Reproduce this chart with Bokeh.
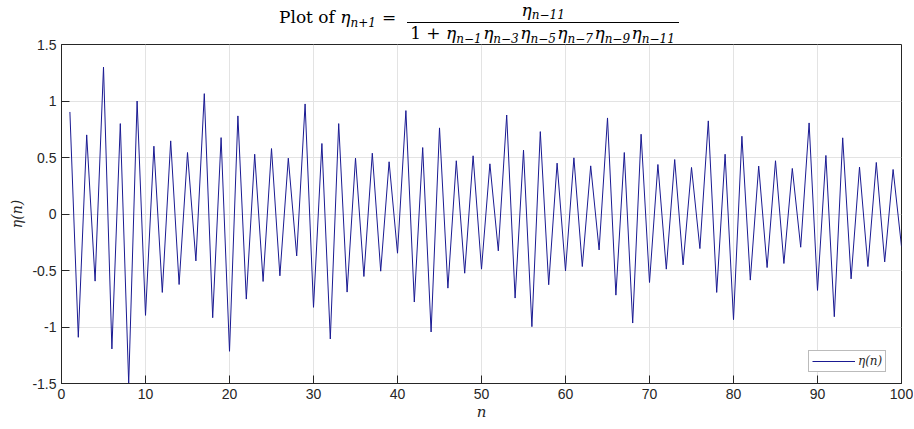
from bokeh.plotting import figure
from bokeh.models import Range1d, FixedTicker, Div
from bokeh.layouts import column
from bokeh.embed import file_html
from bokeh.resources import INLINE

# ---- data ----
n_values = list(range(1, 101))
eta_values = [
    0.903, -1.091, 0.700, -0.594, 1.300, -1.194, 0.800, -1.500, 1.000, -0.897,
    0.600, -0.694, 0.647, -0.624, 0.544, -0.415, 1.065, -0.918, 0.676, -1.215,
    0.868, -0.753, 0.529, -0.597, 0.579, -0.547, 0.494, -0.371, 0.974, -0.826,
    0.624, -1.106, 0.800, -0.691, 0.494, -0.553, 0.538, -0.506, 0.462, -0.347,
    0.915, -0.779, 0.588, -1.044, 0.762, -0.656, 0.471, -0.524, 0.515, -0.488,
    0.444, -0.326, 0.876, -0.744, 0.565, -0.997, 0.729, -0.626, 0.450, -0.503,
    0.497, -0.465, 0.426, -0.318, 0.850, -0.718, 0.544, -0.965, 0.706, -0.606,
    0.438, -0.488, 0.482, -0.450, 0.412, -0.306, 0.824, -0.694, 0.529, -0.935,
    0.688, -0.585, 0.424, -0.474, 0.471, -0.438, 0.403, -0.294, 0.806, -0.676,
    0.518, -0.909, 0.674, -0.574, 0.415, -0.465, 0.456, -0.424, 0.394, -0.288,
]
x_ticks = [0, 10, 20, 30, 40, 50, 60, 70, 80, 90, 100]
y_ticks = [-1.5, -1.0, -0.5, 0.0, 0.5, 1.0, 1.5]
y_tick_labels = ["-1.5", "-1", "-0.5", "0", "0.5", "1", "1.5"]
legend_text = "η(n)"
x_label = "n"
y_label = "η(n)"
denominator_subs = ["n−1", "n−3", "n−5", "n−7", "n−9", "n−11"]

# ---- sizes ----
TOTAL_W = 913
TITLE_H = 43
OVERLAP = 11
FIG_H = 384 + OVERLAP

AX = "#262626"

# ---- title as HTML text ----
def sub(t, dy, extra=""):
    return (f'<span style="font-size:12px;font-style:italic;position:relative;'
            f'top:{dy}px;{extra}">{t}</span>')

eta = '<span style="font-style:italic">η</span>'
line1 = (f'<span style="padding-top:3px;line-height:20px;white-space:nowrap">'
         f'Plot of {eta}{sub("n+1", 4)}<span style="margin-left:6px;margin-right:11px">=</span></span>')
numer = (f'<span style="line-height:12px;padding-bottom:4px;border-bottom:1px solid #000;'
         f'align-self:stretch;text-align:center;white-space:nowrap">{eta}{sub("n−11", 3)}</span>')
denom_terms = "".join(eta + sub(s, 4, "padding-right:1.5px") for s in denominator_subs)
denom = (f'<span style="line-height:20px;padding:0 3px 0 3px;white-space:nowrap">'
         f'1 + {denom_terms}</span>')
frac = f'<span style="display:inline-flex;flex-direction:column;align-items:center">{numer}{denom}</span>'
title_html = (f'<div style="position:relative;width:{TOTAL_W}px;height:{TITLE_H}px;'
              f'font-family:\'DejaVu Serif\';font-size:17px;color:#000">'
              f'<div style="position:absolute;left:279px;top:4px;display:flex;align-items:flex-start">'
              f'{line1}{frac}</div></div>')
title_div = Div(text=title_html, width=TOTAL_W, height=TITLE_H, margin=0)

# ---- plot ----
p = figure(width=TOTAL_W, height=FIG_H, output_backend="svg", toolbar_location=None,
           title=None, x_range=Range1d(0, 100), y_range=Range1d(-1.5, 1.5),
           min_border_left=61, min_border_right=12,
           min_border_top=1 + OVERLAP, min_border_bottom=44,
           background_fill_color="white", border_fill_color=None,
           margin=(-OVERLAP, 0, 0, 0))
p.outline_line_color = AX
p.outline_line_width = 1

for ax in p.xaxis:
    ax.ticker = FixedTicker(ticks=x_ticks)
for ax in p.yaxis:
    ax.ticker = FixedTicker(ticks=y_ticks)
    ax.major_label_overrides = {t: s for t, s in zip(y_ticks, y_tick_labels)}

for ax in p.xaxis + p.yaxis:
    ax.axis_line_color = AX
    ax.major_tick_line_color = AX
    ax.major_tick_in = 8
    ax.major_tick_out = 0
    ax.minor_tick_line_color = None
    ax.major_label_text_font = "Liberation Sans"
    ax.major_label_text_font_size = "14px"
    ax.major_label_text_color = AX
    ax.axis_label_text_font = "DejaVu Serif"
    ax.axis_label_text_font_style = "italic"
    ax.axis_label_text_color = AX

p.xaxis.axis_label = x_label
p.xaxis.axis_label_text_font_size = "15px"
p.xaxis.axis_label_standoff = 1
p.xaxis.major_label_standoff = 5
p.yaxis.axis_label = y_label
p.yaxis.axis_label_text_font_size = "14px"
p.yaxis.axis_label_standoff = 4
p.yaxis.major_label_standoff = 5

p.xgrid.ticker = FixedTicker(ticks=x_ticks)
p.ygrid.ticker = FixedTicker(ticks=y_ticks)
p.grid.grid_line_color = "#e3e3e3"
p.grid.grid_line_width = 1

p.line(n_values, eta_values, line_color="#1a1a92", line_width=1.0, legend_label=legend_text)

lg = p.legend[0]
lg.location = (747, 11)
lg.margin = 0
lg.padding = 3
lg.spacing = 0
lg.glyph_width = 43
lg.glyph_height = 14
lg.label_height = 14
lg.label_standoff = 3
lg.label_text_font = "DejaVu Serif"
lg.label_text_font_style = "italic"
lg.label_text_font_size = "12px"
lg.label_text_color = AX
lg.border_line_color = "#777777"
lg.border_line_width = 1
lg.background_fill_color = "white"
lg.background_fill_alpha = 1

layout = column(title_div, p, spacing=0, margin=0)
open("out.html", "w").write(file_html(layout, INLINE))
